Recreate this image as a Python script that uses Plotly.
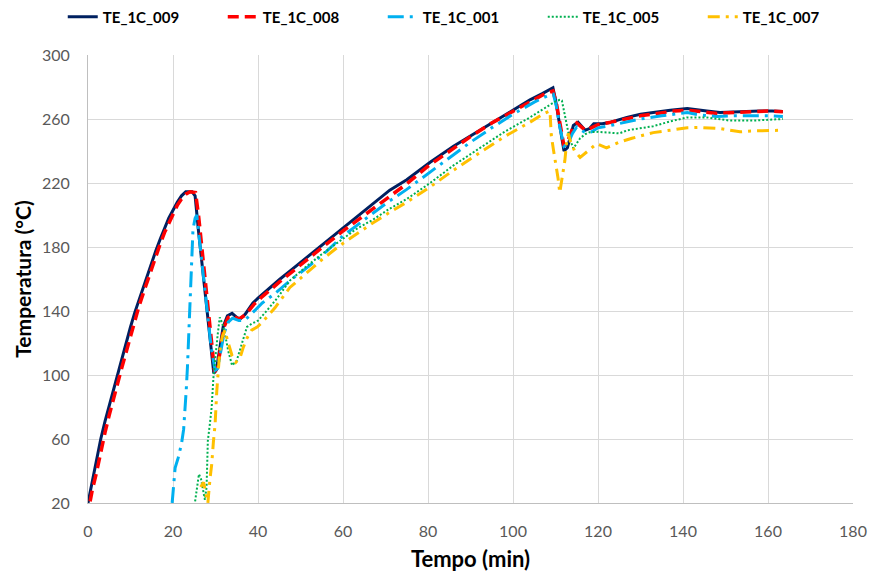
import plotly.graph_objects as go

# ---- data (time in min, temperature in °C) ----
t_009 = [0, 1, 2, 3, 4, 5, 6, 7, 8, 9, 10, 11, 12, 13, 14, 15, 16, 17, 18, 19, 20, 21, 22, 23, 24.5,
         25.2, 26, 27, 28, 29, 29.6, 30.2, 31, 31.8, 32.8, 33.9, 35, 35.8, 37, 38.8, 40, 42.1, 45.2, 48,
         51.5, 55, 59.3, 63, 67, 71, 75, 80.5, 86, 92.2, 98, 104, 107, 109.4, 110, 111, 112, 112.8, 113.5,
         114.2, 115.3, 116, 117, 118, 119, 121, 123, 126.8, 130, 133, 137, 141, 143, 145.6, 148.7, 152,
         155, 158, 161, 163.5]
y_009 = [20, 34, 47, 60, 71, 81, 91, 100, 110, 120, 130, 139, 147, 155, 163, 171, 178, 185, 192, 198, 203,
         208, 212, 214.5, 214.5, 212, 190, 165, 143, 115, 101, 103, 118, 130, 137, 138.5, 136, 135, 138, 145,
         148, 153, 160, 166, 173.5, 181, 190.4, 198, 207, 215.5, 222, 233, 243, 253, 262, 272, 276, 279.5,
         272, 255, 240, 242, 250, 256, 258, 256, 253, 254, 257, 257, 258, 261, 263, 264, 265.5, 266.5, 266,
         265, 264, 264.5, 265, 265, 265, 264.7]

t_008 = [0.5, 1, 2, 3, 4, 5, 6, 7, 8, 9, 10, 11, 12, 13, 14, 15, 16, 17, 18, 19, 20, 21, 22, 23, 24, 25.3,
         26, 27, 28, 29, 29.8, 30.5, 31.2, 32, 33, 34, 35.5, 37, 39, 41, 45, 50, 55, 60, 65, 70, 75, 80, 85,
         90, 95, 100, 105, 108, 109.4, 110.2, 111, 112, 113, 114, 115, 116, 117, 118, 120, 123, 127, 130,
         134, 138, 141, 144, 148, 152, 156, 160, 163.5]
y_008 = [21, 28, 39, 52, 64, 75, 86, 95, 105, 115, 125, 134, 143, 151, 159, 167, 174, 182, 189, 195, 201,
         206, 210, 213, 214.5, 214, 200, 175, 150, 120, 102, 105, 118, 130, 136, 137, 135, 137.5, 144, 149,
         158, 169, 179.5, 190, 200, 210, 219.5, 230.5, 240, 249, 257.5, 265, 272.5, 276.5, 277.5, 270, 258,
         243, 247, 254, 257.5, 255, 253, 254, 256.5, 258, 260.5, 262, 263.5, 265, 265.5, 264.5, 263.5, 264,
         264.5, 265, 264.5]

t_001 = [19.8, 20, 20.5, 21.2, 22, 22.5, 22.8, 23.1, 23.4, 23.7, 24, 24.4, 24.7, 25.2, 25.6, 26.2, 27, 28,
         29, 29.9, 30.5, 31.2, 32, 33, 34, 35.5, 36.8, 38, 39.5, 41, 44, 48, 52, 56, 60, 65, 70, 75, 80, 85,
         90, 95, 100, 105, 108.5, 109.5, 110.2, 111, 112, 113, 114, 115, 116, 117, 118.5, 120, 123, 127, 130,
         135, 139, 141, 144, 148, 152, 156, 160, 163.5]
y_001 = [20, 26, 42, 48, 57, 66, 76, 90, 105, 125, 149, 172, 191, 198, 200, 185, 165, 143, 117, 103, 104,
         114, 126, 133, 135.5, 134, 134, 137, 141, 145, 151, 160, 168, 177, 187, 197, 207, 216, 226, 236,
         245.5, 254.5, 263, 270.5, 275, 275.5, 268, 255, 243, 245, 251, 255, 253.5, 251.5, 252, 254.5, 256,
         258.5, 260, 262, 263.5, 264, 262.5, 261.5, 262, 262, 262, 261.5]

t_005 = [25.2, 25.7, 26.1, 26.6, 27.1, 27.5, 27.9, 28.2, 28.7, 29.1, 29.5, 30, 30.5, 31, 31.5, 32.2, 33,
         33.9, 35, 36.2, 37.4, 38.5, 40, 42, 44.5, 47.5, 51, 55, 59.3, 63, 67, 71, 75, 80.5, 86, 92.2, 98,
         104, 107, 109, 110, 111, 111.5, 112, 112.6, 113.3, 114.2, 115, 115.8, 117, 118, 120, 123, 125, 127,
         133, 137, 141, 145.6, 148, 151, 154, 156.5, 160, 163.5]
y_005 = [21, 30, 38, 35, 28, 22, 30, 59, 70, 80, 98, 113, 125, 136, 133, 126, 115, 106, 109, 119.6, 130,
         132, 134, 140, 148, 159, 167, 175.5, 184, 191, 197, 204, 210, 220, 231, 242, 252, 261, 266, 269, 271,
         272, 271.5, 265, 257, 248, 241.6, 245, 248, 250.5, 251.7, 252, 251.5, 251, 253, 255.5, 258.5, 261,
         261, 260, 259, 259, 259, 259.5, 260]

t_007 = [26.5, 27.2, 27.8, 28.2, 28.7, 29.1, 29.5, 29.9, 30.3, 30.7, 31, 31.6, 32.2, 33, 33.9, 34.8, 35.8,
         36.5, 37.4, 38.5, 39.8, 41, 44, 47.5, 51, 55, 59.3, 63, 67, 71, 75, 80.5, 86, 92.2, 98, 104, 107,
         108.7, 109, 109.5, 110, 110.6, 111, 111.5, 112.2, 112.6, 113, 113.5, 114.5, 115.8, 116.7, 117.6,
         119.7, 122, 125, 128, 133, 137, 141, 144, 148.7, 151, 153.4, 156, 160, 163.5]
y_007 = [30, 33, 25, 20, 35, 44, 58, 69, 90, 105, 115, 124, 128, 120, 112, 108, 111, 117, 123, 128, 130,
         133, 142, 154.7, 163, 172, 181, 188, 195, 201.7, 208, 217.5, 228, 239, 249, 258, 263, 265, 250, 241,
         233, 223, 214, 222, 234, 245, 251, 246, 240, 236, 238, 240.5, 244.6, 242, 245.5, 248, 251.5, 253,
         254.5, 254.7, 254, 253, 252, 252.5, 253, 253]

x_ticks = [0, 20, 40, 60, 80, 100, 120, 140, 160, 180]
y_ticks = [20, 60, 100, 140, 180, 220, 260, 300]

series = [
    ("TE_1C_009", t_009, y_009, "#002060", 3, "solid"),
    ("TE_1C_008", t_008, y_008, "#FF0000", 3.5, "11px,6px"),
    ("TE_1C_001", t_001, y_001, "#00B0F0", 3, "16px,6px,3px,6px"),
    ("TE_1C_005", t_005, y_005, "#00B050", 2, "2px,2px"),
    ("TE_1C_007", t_007, y_007, "#FFC000", 3, "12px,6px,3px,6px"),
]

fig = go.Figure()
for name, xs, ys, color, w, dash in series:
    fig.add_trace(go.Scatter(x=xs, y=ys, mode="lines", name=name,
                             line=dict(color=color, width=w, dash=dash)))

font_family = "Lato, 'Open Sans', sans-serif"
fig.update_layout(
    width=871, height=575,
    margin=dict(l=88, r=18, t=55, b=72, autoexpand=False),
    paper_bgcolor="white", plot_bgcolor="white",
    font=dict(family=font_family, color="#595959", size=16),
    legend=dict(orientation="h", x=-0.033, xanchor="left", y=1.085, yanchor="middle",
                font=dict(family=font_family, size=15, color="black", weight="bold"),
                entrywidth=115, entrywidthmode="pixels", bgcolor="rgba(0,0,0,0)"),
    xaxis=dict(range=[0, 180], tickvals=x_ticks, showgrid=True, gridcolor="#d9d9d9", gridwidth=1,
               showline=True, linecolor="#bfbfbf", linewidth=1, zeroline=False,
               ticks="", ticklabelstandoff=14, automargin=False,
               title=dict(text="Tempo (min)", font=dict(size=22, color="black", weight="bold"),
                          standoff=12)),
    yaxis=dict(range=[20, 300], tickvals=y_ticks, showgrid=True, gridcolor="#d9d9d9", gridwidth=1,
               showline=True, linecolor="#bfbfbf", linewidth=1, zeroline=False,
               ticks="", ticklabelstandoff=14, automargin=False,
               title=dict(text="Temperatura (°C)", font=dict(size=21, color="black", weight="bold"),
                          standoff=4)),
)

# remove the default page margin so the figure fills the 871x575 window exactly
fig.write_html("out.html", config={"displayModeBar": False},
               post_script="document.body.style.margin='0px';document.body.style.overflow='hidden';")
